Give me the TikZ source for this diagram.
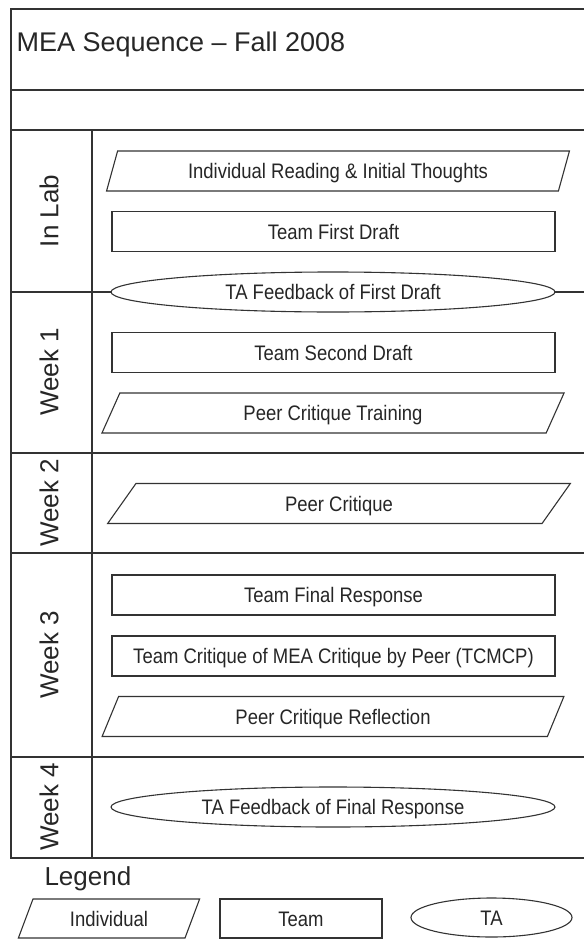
\documentclass[tikz,border=0pt]{standalone}
\usepackage{fontspec}
\setmainfont{Liberation Sans}
\newfontfamily\slimfont[FakeStretch=0.88]{Liberation Sans}
\usetikzlibrary{shapes.geometric}

\tikzset{
  rule/.style={line width=1.3pt, draw=black!80},
  box/.style={draw=black!80, line width=1.1pt, fill=white, text=black!85,
    font=\slimfont\fontsize{21}{25}\selectfont, text height=15pt, text depth=0pt, inner sep=0pt},
  indiv/.style={box, trapezium, trapezium left angle=63.4, trapezium right angle=116.6,
    trapezium stretches=true, minimum width=463pt, minimum height=40pt},
  team/.style={box, rectangle, minimum width=443pt, minimum height=40pt},
  ta/.style={box, ellipse, minimum width=444pt, minimum height=40pt},
  lane/.style={rotate=90, font=\fontsize{26}{30}\selectfont, text=black!85}
}

\begin{document}
\begin{tikzpicture}[x=1pt, y=-1pt]
\useasboundingbox (0,0) rectangle (584,939);

% frame, title band and week lanes
\draw[rule] (584,9) -- (11,9) -- (11,858) -- (584,858);
\draw[rule] (11,90) -- (584,90);
\draw[rule] (11,130) -- (584,130);
\draw[rule] (92,130) -- (92,858);
\foreach \y in {292,453,553,757}
  \draw[rule] (11,\y) -- (584,\y);

\node[anchor=base west, font=\fontsize{27}{32}\selectfont, text=black!85] (title) at (13,52) {MEA Sequence – Fall 2008};

\node[lane] (inlab) at (49,211) {In Lab};
\node[lane] (wk1) at (49,372) {Week 1};
\node[lane] (wk2) at (49,503) {Week 2};
\node[lane] (wk3) at (49,655) {Week 3};
\node[lane] (wk4) at (49,807) {Week 4};

% activities
\node[indiv] (reading) at (338,171) {Individual Reading \& Initial Thoughts};
\node[team] (draft1) at (333.5,231.5) {Team First Draft};
\node[ta] (fb1) at (333,292) {TA Feedback of First Draft};
\node[team] (draft2) at (333.5,352.5) {Team Second Draft};
\node[indiv] (training) at (333,413) {Peer Critique Training};
\node[indiv] (critique) at (339,503.5) {Peer Critique};
\node[team] (final) at (333.5,595) {Team Final Response};
\node[team] (tcmcp) at (333.5,656) {Team Critique of MEA Critique by Peer (TCMCP)};
\node[indiv] (reflect) at (333,716.5) {Peer Critique Reflection};
\node[ta] (fb2) at (333,807) {TA Feedback of Final Response};

% legend
\node[anchor=base west, font=\fontsize{26}{30}\selectfont, text=black!85] (legend) at (41,885) {Legend};
\node[indiv, minimum width=182pt, minimum height=39pt] (keyind) at (109,918.5) {Individual};
\node[team, minimum width=162pt, minimum height=39pt] (keyteam) at (301,918.5) {Team};
\node[ta, minimum width=161pt, minimum height=39pt] (keyta) at (491.5,917.5) {TA};
\end{tikzpicture}
\end{document}
